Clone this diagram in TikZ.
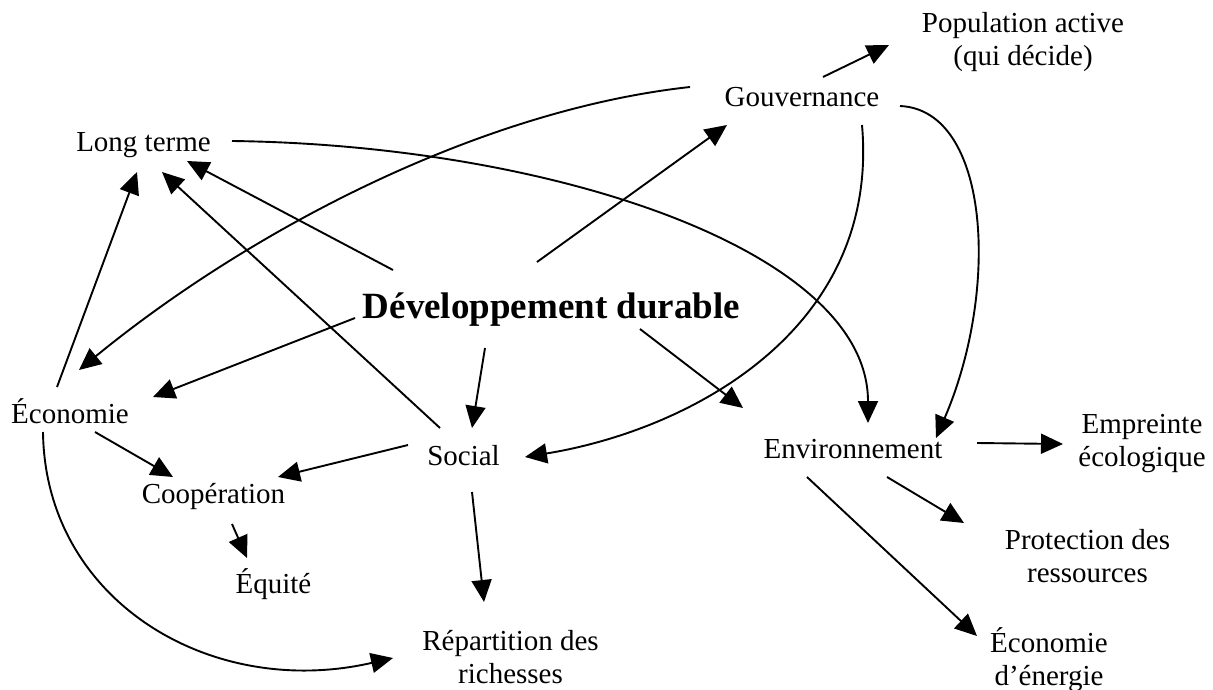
\documentclass[tikz,border=0pt]{standalone}
\usepackage{fontspec}
\setmainfont{Liberation Serif}
\usetikzlibrary{arrows.meta,calc}
\newcommand\twolines[2]{\vtop{\halign{\hfil##\hfil\cr #1\cr #2\cr}}}
\begin{document}
\begin{tikzpicture}[x=1pt,y=-1pt,
  lbl/.style={inner sep=0pt,anchor=base,font=\fontsize{29}{33}\selectfont},
  ttl/.style={inner sep=0pt,anchor=base,font=\fontsize{37}{42}\selectfont\bfseries},
  arr/.style={line width=1.9pt,-{Triangle[length=22pt,width=20pt]}}]
\useasboundingbox (0,0) rectangle (1213,690);
% nodes (positions = centre x, baseline y)
\node[ttl] (dd) at (551.5,318) {Développement durable};
\node[lbl] (lt) at (143.5,152) {Long terme};
\node[lbl] (gov) at (802,107) {Gouvernance};
\node[lbl] (pop) at (1023,33) {\twolines{Population active}{(qui décide)}};
\node[lbl] (eco) at (70,423) {Économie};
\node[lbl] (coop) at (213.5,503) {Coopération};
\node[lbl] (soc) at (463.5,465) {Social};
\node[lbl] (env) at (853,458) {Environnement};
\node[lbl] (emp) at (1142,433) {\twolines{Empreinte}{écologique}};
\node[lbl] (prot) at (1087.5,549) {\twolines{Protection des}{ressources}};
\node[lbl] (ecoe) at (1049,652) {\twolines{Économie}{d’énergie}};
\node[lbl] (equ) at (273.5,593) {Équité};
\node[lbl] (rep) at (510.5,650) {\twolines{Répartition des}{richesses}};
% straight connectors
\draw[arr] ($(dd.base)+(-158.5,-48)$) -- ($(lt.base)+(43.5,9)$);
\draw[arr] ($(soc.base)+(-23.5,-37)$) -- ($(lt.base)+(18.5,20)$);
\draw[arr] ($(eco.base)+(-13,-36)$) -- ($(lt.base)+(-6.5,20)$);
\draw[arr] ($(dd.base)+(-14.5,-56)$) -- ($(gov.base)+(-75,18)$);
\draw[arr] ($(gov.base)+(21,-30)$) -- ($(pop.base)+(-134,12)$);
\draw[arr] ($(dd.base)+(-196.5,0)$) -- ($(eco.base)+(83,-26)$);
\draw[arr] ($(dd.base)+(-66.5,30)$) -- ($(soc.base)+(8.5,-37)$);
\draw[arr] ($(dd.base)+(88.5,11)$) -- ($(env.base)+(-110,-50)$);
\draw[arr] ($(env.base)+(124,-15)$) -- ($(emp.base)+(-79,11)$);
\draw[arr] ($(env.base)+(34,19)$) -- ($(prot.base)+(-123.5,-26)$);
\draw[arr] ($(env.base)+(-46,19)$) -- ($(ecoe.base)+(-72,-16)$);
\draw[arr] ($(eco.base)+(25,9)$) -- ($(coop.base)+(-40.5,-26)$);
\draw[arr] ($(soc.base)+(-55.5,-20)$) -- ($(coop.base)+(64.5,-26)$);
\draw[arr] ($(coop.base)+(18.5,21)$) -- ($(equ.base)+(-26.5,-35)$);
\draw[arr] ($(soc.base)+(8.5,27)$) -- ($(rep.base)+(-26.5,-48)$);
% curved connectors
\draw[arr] ($(lt.base)+(88.5,-11)$) .. controls +(318,4) and +(0,-173) .. ($(env.base)+(15,-35)$);
\draw[arr] ($(gov.base)+(-112,-20)$) .. controls +(-210,23) and +(171,-140) .. ($(eco.base)+(9,-53)$);
\draw[arr] ($(gov.base)+(60,18)$) .. controls +(18,205) and +(165,-27) .. ($(soc.base)+(61.5,-8)$);
\draw[arr] ($(gov.base)+(98,-1)$) .. controls +(90,4) and +(64,-148) .. ($(env.base)+(83,-20)$);
\draw[arr] ($(eco.base)+(-27,9)$) .. controls +(2,168) and +(-183,42) .. ($(rep.base)+(-117.5,8)$);
\end{tikzpicture}
\end{document}
